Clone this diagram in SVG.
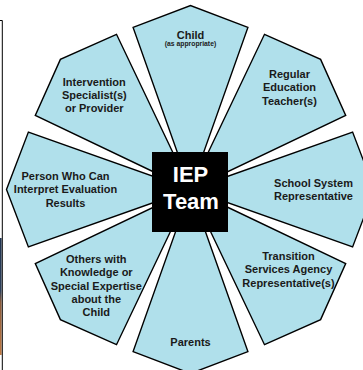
<svg xmlns="http://www.w3.org/2000/svg" width="363" height="370" viewBox="0 0 363 370">
<defs>
<style>
.petal{fill:#b0e0eb;stroke:#000;stroke-width:1.4;stroke-linejoin:miter}
.lbl{font-family:"Liberation Sans",Arial,sans-serif;font-weight:bold;font-size:11px;fill:#1a1a1a;text-anchor:middle}
.small{font-size:6.8px}
.hub{font-family:"Liberation Sans",Arial,sans-serif;font-weight:bold;font-size:22px;fill:#fff;text-anchor:middle}
</style>
<linearGradient id="edge" x1="0" y1="0" x2="0" y2="1">
<stop offset="0" stop-color="#1f3350"/>
<stop offset="0.45" stop-color="#2c3f5a"/>
<stop offset="0.55" stop-color="#8a5a3a"/>
<stop offset="1" stop-color="#c07840"/>
</linearGradient>
</defs>
<rect width="363" height="370" fill="#fff"/>
<g id="frame-edge">
<rect x="0" y="238" width="1.6" height="117" fill="url(#edge)"/>
<path d="M0,20.5 H2.3 V370" fill="none" stroke="#000" stroke-width="1"/>
</g>
<g id="connectors"></g>
<g id="child">
<polygon class="petal" points="190.5,189.5 133.1,27.4 190.5,5.5 247.9,27.4"/>
<text class="lbl" x="190.5" y="38.5">Child</text>
<text class="lbl small" x="190.5" y="46">(as appropriate)</text>
</g>
<g id="regular-education-teacher">
<polygon class="petal" points="190.5,189.5 264.5,34.3 320.6,59.4 345.7,115.5"/>
<text class="lbl" x="289.5" y="78">Regular</text>
<text class="lbl" x="289.5" y="91.3">Education</text>
<text class="lbl" x="289.5" y="104.6">Teacher(s)</text>
</g>
<g id="school-system-representative">
<polygon class="petal" points="190.5,189.5 352.6,132.1 374.5,189.5 352.6,246.9"/>
<text class="lbl" x="313.5" y="187">School System</text>
<text class="lbl" x="313.5" y="200.3">Representative</text>
</g>
<g id="transition-services">
<polygon class="petal" points="190.5,189.5 345.7,263.5 320.6,319.6 264.5,344.7"/>
<text class="lbl" x="288.5" y="260">Transition</text>
<text class="lbl" x="288.5" y="273.3">Services Agency</text>
<text class="lbl" x="288.5" y="286.6">Representative(s)</text>
</g>
<g id="parents">
<polygon class="petal" points="190.5,189.5 247.9,351.6 190.5,373.5 133.1,351.6"/>
<text class="lbl" x="190.5" y="346">Parents</text>
</g>
<g id="others-with-knowledge">
<polygon class="petal" points="190.5,189.5 116.5,344.7 60.4,319.6 35.3,263.5"/>
<text class="lbl" x="96.3" y="263">Others with</text>
<text class="lbl" x="96.3" y="276.3">Knowledge or</text>
<text class="lbl" x="96.3" y="289.6">Special Expertise</text>
<text class="lbl" x="96.3" y="302.9">about the</text>
<text class="lbl" x="96.3" y="316.2">Child</text>
</g>
<g id="person-interpret-evaluation">
<polygon class="petal" points="190.5,189.5 28.4,246.9 6.5,189.5 28.4,132.1"/>
<text class="lbl" x="65.5" y="180">Person Who Can</text>
<text class="lbl" x="65.5" y="193.3">Interpret Evaluation</text>
<text class="lbl" x="65.5" y="206.6">Results</text>
</g>
<g id="intervention-specialist">
<polygon class="petal" points="190.5,189.5 35.3,115.5 60.4,59.4 116.5,34.3"/>
<text class="lbl" x="94.3" y="85.6">Intervention</text>
<text class="lbl" x="94.3" y="98.9">Specialist(s)</text>
<text class="lbl" x="94.3" y="112.2">or Provider</text>
</g>
<g id="iep-team">
<rect x="152" y="152" width="76" height="80" fill="#000"/>
<text class="hub" x="190.5" y="181.5">IEP</text>
<text class="hub" x="191" y="208.5">Team</text>
</g>
</svg>
